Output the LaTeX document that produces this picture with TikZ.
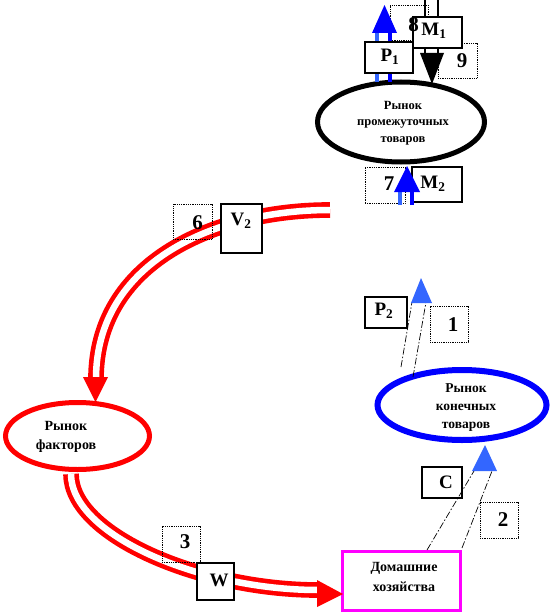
\documentclass[tikz,border=0pt]{standalone}
\usepackage{fontspec}
\setmainfont{Liberation Serif}
\usetikzlibrary{shapes.geometric}
\definecolor{myred}{RGB}{255,0,0}
\definecolor{myblue}{RGB}{0,0,255}
\definecolor{lblue}{RGB}{51,102,255}
\definecolor{mag}{RGB}{255,0,255}
\tikzset{
  lbl/.style={draw=black, line width=2.4pt, fill=white, inner sep=0pt},
  numbox/.style={draw=black, line width=0.8pt, densely dotted, inner sep=0pt},
  ltxt/.style={font=\bfseries\fontsize{19}{20}\selectfont, inner sep=0pt},
  dtxt/.style={font=\bfseries\fontsize{21}{22}\selectfont, inner sep=0pt},
  mkt/.style={ellipse, inner sep=0pt},
  mtxt/.style={font=\bfseries\fontsize{12.5}{16.5}\selectfont, align=center, inner sep=0pt},
  redflow/.style={draw=myred, line width=4.6pt, double=white, double distance=6.5pt},
  ddline/.style={draw=black, line width=0.7pt, dash pattern=on 7pt off 2pt on 1.5pt off 2pt},
}
\begin{document}
\begin{tikzpicture}[x=1pt,y=-1pt]
\useasboundingbox (0,0) rectangle (552,615);

% markets
\node[mkt, draw=black, line width=5pt, minimum width=167pt, minimum height=80pt] (inter) at (401,122) {};
\node[mtxt] (intert) at (403,123) {Рынок\\промежуточных\\товаров};
\node[mkt, draw=myblue, line width=6pt, minimum width=169pt, minimum height=70pt] (final) at (462,405) {};
\node[mtxt, font=\bfseries\fontsize{13.5}{18}\selectfont] (finalt) at (466,408) {Рынок\\конечных\\товаров};
\node[mkt, draw=myred, line width=5pt, minimum width=144pt, minimum height=67pt] (factor) at (77.5,436) {};
\node[mtxt, font=\bfseries\fontsize{14}{19}\selectfont] (factort) at (66,437) {Рынок\\факторов};
\node[draw=mag, line width=3pt, minimum width=118pt, minimum height=59pt, inner sep=0pt] (home) at (401.5,581) {};
\node[mtxt, font=\bfseries\fontsize{14}{20}\selectfont] (homet) at (404,577) {Домашние\\хозяйства};

% red flows
\coordinate (r1s) at (330,210);
\coordinate (r1e) at (96,379);
\draw[redflow] (r1s) .. controls (215,210) and (96,262) .. (r1e);
\fill[myred] (83,377) -- (108,377) -- (95.5,402) -- cycle;
\coordinate (r2s) at (71,474);
\coordinate (r2e) at (318,590);
\draw[redflow] (r2s) .. controls (71,535) and (200,590) .. (r2e);
\fill[myred] (317,580) -- (317,607) -- (343,594) -- cycle;

% number boxes
\node[numbox, minimum width=38pt, minimum height=35pt] (b8) at (409,22.5) {};
\node[numbox, minimum width=39pt, minimum height=35pt] (b9) at (457.5,60.5) {};
\node[numbox, minimum width=40pt, minimum height=36pt] (b7) at (385,185) {};
\node[numbox, minimum width=39pt, minimum height=35pt] (b6) at (192.5,221.5) {};
\node[numbox, minimum width=38pt, minimum height=36pt] (b1) at (449,324) {};
\node[numbox, minimum width=38pt, minimum height=36pt] (b2) at (499,520) {};
\node[numbox, minimum width=38pt, minimum height=36pt] (b3) at (181,544) {};

% top arrows shafts
\coordinate (bu1s) at (377,82); \coordinate (bu1e) at (377,32);
\coordinate (bu2s) at (390,82); \coordinate (bu2e) at (390,32);
\draw[lblue, line width=4pt] (bu1s) -- (bu1e);
\draw[myblue, line width=4pt] (bu2s) -- (bu2e);
\coordinate (bd1s) at (425,0); \coordinate (bd1e) at (425,55);
\coordinate (bd2s) at (438,0); \coordinate (bd2e) at (438,55);
\draw[black, line width=2pt] (bd1s) -- (bd1e);
\draw[black, line width=2pt] (bd2s) -- (bd2e);

% label boxes
\node[lbl, minimum width=48pt, minimum height=31pt] (p1) at (389,57.5) {};
\node[lbl, minimum width=49pt, minimum height=31pt] (m1) at (437.5,32.5) {};
\node[lbl, minimum width=50pt, minimum height=35pt] (m2) at (437,184.5) {};
\node[lbl, minimum width=41pt, minimum height=49pt] (v2) at (241.5,228.5) {};
\node[lbl, minimum width=42pt, minimum height=31pt] (p2) at (386,312.5) {};
\node[lbl, minimum width=37pt, minimum height=37pt] (w) at (215.5,581.5) {};
\node[lbl, minimum width=40pt, minimum height=31pt] (c) at (442,482.5) {};

% arrow heads top
\fill[myblue] (372,33) -- (397,33) -- (384.5,5) -- cycle;
\fill[black] (420,53) -- (444,53) -- (432,84) -- cycle;

% bottom arrow of intermediate market
\coordinate (bb1s) at (400,205); \coordinate (bb1e) at (400,190);
\coordinate (bb2s) at (412,205); \coordinate (bb2e) at (412,190);
\draw[lblue, line width=3.5pt] (bb1s) -- (bb1e);
\draw[myblue, line width=3.5pt] (bb2s) -- (bb2e);
\fill[myblue] (394,192) -- (420,192) -- (407,166) -- cycle;

% dash-dot arrows
\coordinate (d1s) at (401,367); \coordinate (d1e) at (412,302);
\coordinate (d2s) at (413,377); \coordinate (d2e) at (426,302);
\draw[ddline] (d1s) -- (d1e);
\draw[ddline] (d2s) -- (d2e);
\fill[lblue] (411,303) -- (432,303) -- (421,278) -- cycle;
\coordinate (d3s) at (427,550); \coordinate (d3e) at (474,471);
\coordinate (d4s) at (462,548); \coordinate (d4e) at (492,471);
\draw[ddline] (d3s) -- (d3e);
\draw[ddline] (d4s) -- (d4e);
\fill[lblue] (472,471) -- (497,471) -- (485,445) -- cycle;

% texts
\node[ltxt] (p1t) at (390,57) {P\textsubscript{1}};
\node[ltxt] (m1t) at (434,31) {M\textsubscript{1}};
\node[ltxt] (m2t) at (433,184) {M\textsubscript{2}};
\node[ltxt] (v2t) at (241,221) {V\textsubscript{2}};
\node[ltxt] (p2t) at (384,311) {P\textsubscript{2}};
\node[ltxt] (wt) at (219,580) {W};
\node[ltxt] (ct) at (446,482) {C};
\node[dtxt] (t8) at (413.5,25) {8};
\node[dtxt] (t9) at (462,61) {9};
\node[dtxt] (t7) at (389,184) {7};
\node[dtxt] (t6) at (197.5,223) {6};
\node[dtxt] (t1) at (453,325) {1};
\node[dtxt] (t2) at (503,520) {2};
\node[dtxt] (t3) at (185,542) {3};
\end{tikzpicture}
\end{document}
